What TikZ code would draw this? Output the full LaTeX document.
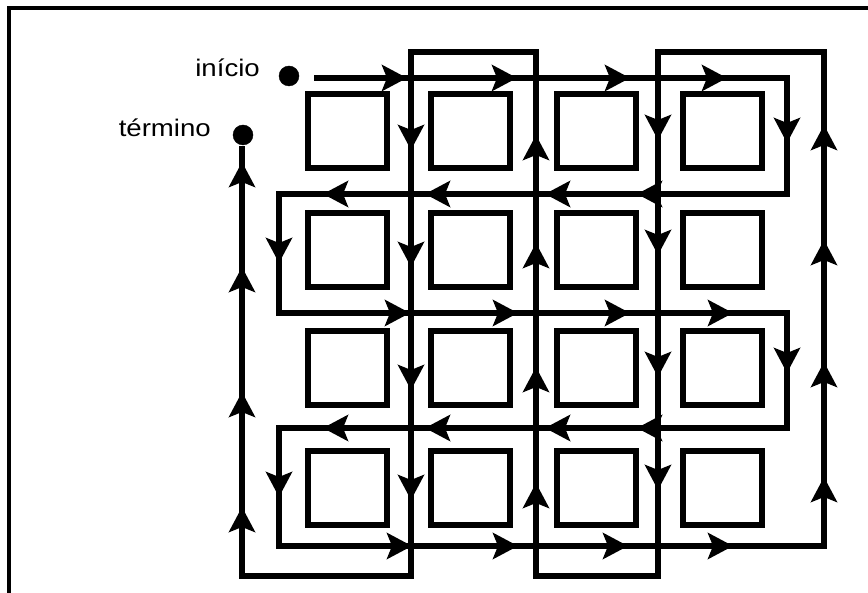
\documentclass[tikz,border=0pt]{standalone}
\usepackage{fontspec}
\setmainfont{Liberation Sans}
\usetikzlibrary{arrows.meta}

\tikzset{
	route/.style={line width=6.5pt},
	box/.style={line width=6pt},
	arr/.style={line width=6.5pt, -{Stealth[length=25pt,width=26pt,inset=5pt]}},
	lbl/.style={inner sep=0pt, font=\fontsize{24}{24}\selectfont}
}

\begin{document}
\begin{tikzpicture}[x=1pt,y=-1pt]
	\useasboundingbox (0,0) rectangle (868,593);
	\draw[line width=4.5pt] (9,600) -- (9,8) -- (880,8);

	% the sixteen boxes
	\foreach \cx in {347.5,470.5,596.5,722}
		\foreach \cy in {131.5,250,368,488}
			\draw[box] (\cx-39.5,\cy-37) rectangle (\cx+39.5,\cy+37);

	\coordinate (start) at (314,78);
	\coordinate (r1) at (787,78);
	\coordinate (r2) at (787,194);
	\coordinate (l2) at (279,194);
	\coordinate (l3) at (279,313);
	\coordinate (r3) at (787,313);
	\coordinate (r4) at (787,428);
	\coordinate (l4) at (279,428);
	\coordinate (l5) at (279,546);
	\coordinate (r5) at (824,546);
	\coordinate (c4t) at (824,52);
	\coordinate (c3t) at (658,52);
	\coordinate (c3b) at (658,576);
	\coordinate (c2b) at (536,576);
	\coordinate (c2t) at (536,52);
	\coordinate (c1t) at (411,52);
	\coordinate (c1b) at (411,576);
	\coordinate (c0b) at (242,576);
	\coordinate (end) at (242,146);

	\draw[route] (start) -- (r1) -- (r2) -- (l2) -- (l3) -- (r3) -- (r4) -- (l4) -- (l5) -- (r5)
		-- (c4t) -- (c3t) -- (c3b) -- (c2b) -- (c2t) -- (c1t) -- (c1b) -- (c0b) -- (end);

	\filldraw[black] (289,76) circle(10pt);
	\filldraw[black] (243,135) circle(10pt);
	\node[lbl, anchor=base east] (inicio) at (260,77) {\scalebox{1.15}[1]{início}};
	\node[lbl, anchor=base east] (termino) at (211,137) {\scalebox{1.15}[1]{término}};

	% arrows along the rows
	\foreach \x in {407,517,630,727} \draw[arr] (\x-20,78) -- (\x,78);
	\foreach \x in {323,425,545,637} \draw[arr] (\x+20,194) -- (\x,194);
	\foreach \x in {410,518,630,733} \draw[arr] (\x-20,313) -- (\x,313);
	\foreach \x in {323,425,545,637} \draw[arr] (\x+20,428) -- (\x,428);
	\foreach \x in {412,518,628,733} \draw[arr] (\x-20,546) -- (\x,546);
	\draw[arr] (787,123) -- (787,143);
	\draw[arr] (787,353) -- (787,373);
	\draw[arr] (279,243) -- (279,263);
	\draw[arr] (279,477) -- (279,497);

	% arrows along the columns
	\foreach \y in {125,240,362,477} \draw[arr] (824,\y+20) -- (824,\y);
	\foreach \y in {140,255,377,490} \draw[arr] (658,\y-20) -- (658,\y);
	\foreach \y in {135,243,367,483} \draw[arr] (536,\y+20) -- (536,\y);
	\foreach \y in {150,267,390,500} \draw[arr] (411,\y-20) -- (411,\y);
	\foreach \y in {162,267,392,507} \draw[arr] (242,\y+20) -- (242,\y);
\end{tikzpicture}
\end{document}
